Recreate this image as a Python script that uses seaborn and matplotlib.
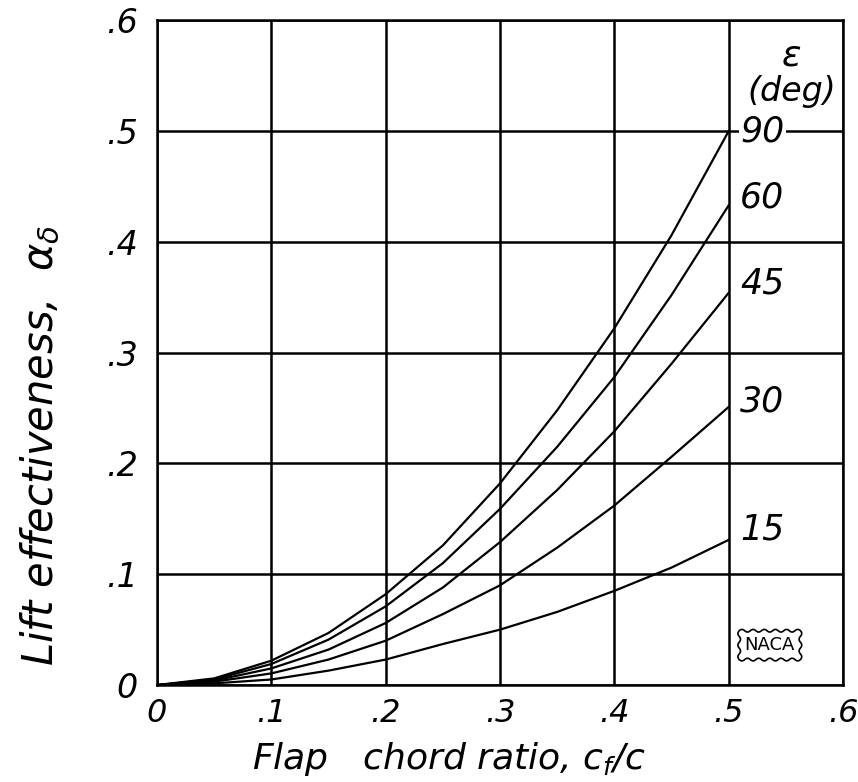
"""
Lift effectiveness of a flap vs flap chord ratio (NACA style chart).
"""

import pandas as pd
import matplotlib
matplotlib.use("Agg")
import matplotlib.pyplot as plt
import seaborn as sns

# ---------------------------------------------------------
# Data
# ---------------------------------------------------------
chord_ratio = [0.0, 0.05, 0.10, 0.15, 0.20, 0.25, 0.30, 0.35, 0.40, 0.45, 0.50]

eps_90 = [0.0, 0.006, 0.022, 0.047, 0.082, 0.126, 0.182, 0.248, 0.322, 0.406, 0.500]
eps_60 = [0.0, 0.005, 0.019, 0.041, 0.071, 0.110, 0.159, 0.215, 0.278, 0.352, 0.433]
eps_45 = [0.0, 0.004, 0.015, 0.032, 0.056, 0.088, 0.129, 0.176, 0.229, 0.290, 0.354]
eps_30 = [0.0, 0.003, 0.0105, 0.023, 0.040, 0.064, 0.090, 0.124, 0.162, 0.206, 0.251]
eps_15 = [0.0, 0.0015, 0.005, 0.013, 0.023, 0.037, 0.050, 0.066, 0.085, 0.106, 0.131]

curve_labels = ["90", "60", "45", "30", "15"]
label_heights = [0.500, 0.440, 0.362, 0.256, 0.140]

tick_values = [0.0, 0.1, 0.2, 0.3, 0.4, 0.5, 0.6]
tick_labels = ["0", ".1", ".2", ".3", ".4", ".5", ".6"]

series = {"90": eps_90, "60": eps_60, "45": eps_45, "30": eps_30, "15": eps_15}
df = pd.concat(
    [pd.DataFrame({"cf_c": chord_ratio, "alpha": vals, "eps": name}) for name, vals in series.items()],
    ignore_index=True,
)

# ---------------------------------------------------------
# Style
# ---------------------------------------------------------
sns.set_style("white")
plt.rcParams["font.family"] = ["DejaVu Sans"]
plt.rcParams["font.style"] = "italic"
plt.rcParams["text.color"] = "black"
plt.rcParams["axes.labelcolor"] = "black"
plt.rcParams["xtick.color"] = "black"
plt.rcParams["ytick.color"] = "black"
plt.rcParams["mathtext.fontset"] = "dejavusans"
plt.rcParams["mathtext.default"] = "it"

fig = plt.figure(figsize=(8.58, 7.82), dpi=100)
ax = fig.add_axes([0.183, 0.124, 0.7995, 0.850])

sns.lineplot(data=df, x="cf_c", y="alpha", units="eps", estimator=None,
             color="black", linewidth=1.6, legend=False, ax=ax, zorder=3)

ax.set_xlim(0, 0.6)
ax.set_ylim(0, 0.6)
ax.set_xticks(tick_values)
ax.set_yticks(tick_values)
ax.set_xticklabels(tick_labels, fontsize=23)
ax.set_yticklabels(tick_labels, fontsize=24)
ax.tick_params(axis="x", length=0, pad=9)
ax.tick_params(axis="y", length=0, pad=14)
ax.grid(True, color="black", linewidth=1.8)
for spine in ax.spines.values():
    spine.set_color("black")
    spine.set_linewidth(1.8)

ax.set_xlabel("Flap   chord ratio, $c_f/c$", fontsize=26)
ax.xaxis.set_label_coords(0.425, -0.082)
ax.set_ylabel(r"Lift effectiveness,  $\alpha_\delta$", fontsize=30)
ax.yaxis.set_label_coords(-0.138, 0.36)

# curve labels at the right end of each curve
for name, h in zip(curve_labels, label_heights):
    ax.text(0.510, h, name, fontsize=25, va="center", ha="left", zorder=4,
            bbox=dict(facecolor="white", edgecolor="none", pad=1))
ax.text(0.555, 0.568, r"$\epsilon$", fontsize=26, ha="center", va="center")
ax.text(0.555, 0.536, "(deg)", fontsize=24, ha="center", va="center")

# NACA emblem
ax.text(0.536, 0.036, "NACA", fontsize=13, ha="center", va="center", style="normal",
        zorder=4, bbox=dict(boxstyle="roundtooth,pad=0.45,tooth_size=0.3",
                            facecolor="white", edgecolor="black", linewidth=1.2))

fig.savefig("out.png", dpi=100)
plt.close(fig)
